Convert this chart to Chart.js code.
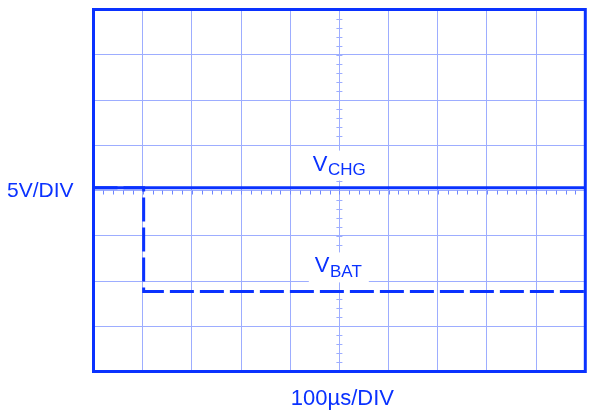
<!DOCTYPE html>
<html>
<head>
<meta charset="utf-8">
<script src="https://cdn.jsdelivr.net/npm/chart.js@4/dist/chart.umd.min.js"></script>
<style>
html,body{margin:0;padding:0;background:#fff;}
#wrap{width:600px;height:418px;}
</style>
</head>
<body>
<div id="wrap"><canvas id="c" width="600" height="418"></canvas></div>
<script>
// Data (in divisions)
const timeDiv = [0, 1.02, 1.02, 10];
const vbatDiv = [0.06, 0.06, -2.23, -2.23];
const vchgTime = [0, 10];
const vchgDiv = [0.06, 0.06];
const yLabel = '5V/DIV';
const xLabel = '100µs/DIV';
const traceNames = [['V', 'CHG'], ['V', 'BAT']];
const tracePos = [[4.46, 0.44], [4.50, -1.81]]; // label anchor (div units)

const BLUE = '#0a32ff';
const GRID = '#9dadff';
const FONT = "'Liberation Sans', Arial, sans-serif";

const vchg = vchgTime.map((t, i) => ({x: t, y: vchgDiv[i]}));
const vbat = timeDiv.map((t, i) => ({x: t, y: vbatDiv[i]}));

function labelBoxes(chart) {
  const xs = chart.scales.x, ys = chart.scales.y;
  return traceNames.map((n, i) => {
    const x = xs.getPixelForValue(tracePos[i][0]);
    const y = ys.getPixelForValue(tracePos[i][1]);
    return {n, x, y};
  });
}

const scopePlugin = {
  id: 'scope',
  beforeDatasetsDraw(chart) {
    const ctx = chart.ctx, xs = chart.scales.x, ys = chart.scales.y;
    const cx = xs.getPixelForValue(5), cy = ys.getPixelForValue(0);
    ctx.save();
    ctx.strokeStyle = GRID;
    ctx.lineWidth = 1;
    ctx.beginPath();
    for (let v = -4; v < 4; v += 0.2) {
      const y = Math.round(ys.getPixelForValue(v)) + 0.5;
      ctx.moveTo(cx - 3, y); ctx.lineTo(cx + 3, y);
    }
    ctx.stroke();
    ctx.strokeStyle = '#6f86ff';
    ctx.beginPath();
    for (let v = 0; v < 10; v += 0.2) {
      const x = Math.round(xs.getPixelForValue(v)) + 0.5;
      ctx.moveTo(x, cy); ctx.lineTo(x, cy + 4);
    }
    ctx.stroke();
    // label backgrounds
    ctx.fillStyle = '#ffffff';
    labelBoxes(chart).forEach(b => {
      ctx.fillRect(b.x - 6, b.y - 20, 60, 30);
    });
    ctx.restore();
  },
  afterDraw(chart) {
    const ctx = chart.ctx, a = chart.chartArea, xs = chart.scales.x;
    ctx.save();
    ctx.strokeStyle = BLUE;
    ctx.lineWidth = 3;
    ctx.strokeRect(a.left, a.top, a.right - a.left, a.bottom - a.top);
    ctx.fillStyle = BLUE;
    ctx.textBaseline = 'alphabetic';
    ctx.font = '21px ' + FONT;
    ctx.textAlign = 'left';
    ctx.fillText(yLabel, 7, 197);
    ctx.textAlign = 'center';
    ctx.font = '22px ' + FONT;
    ctx.fillText(xLabel, xs.getPixelForValue(5) + 3, 405);
    ctx.textAlign = 'left';
    labelBoxes(chart).forEach(b => {
      ctx.font = '22px ' + FONT;
      ctx.fillText(b.n[0], b.x, b.y);
      const w = ctx.measureText(b.n[0]).width;
      ctx.font = '17px ' + FONT;
      ctx.fillText(b.n[1], b.x + w + 0.5, b.y + 4.5);
    });
    ctx.restore();
  }
};

new Chart(document.getElementById('c'), {
  type: 'scatter',
  data: {
    datasets: [
      {label: 'VCHG', data: vchg, showLine: true, borderColor: BLUE, borderWidth: 3, pointRadius: 0, tension: 0, borderCapStyle: 'butt'},
      {label: 'VBAT', data: vbat, showLine: true, borderColor: BLUE, borderWidth: 3, pointRadius: 0, tension: 0, borderDash: [24, 6], borderCapStyle: 'butt', borderJoinStyle: 'miter'}
    ]
  },
  options: {
    responsive: false,
    animation: false,
    devicePixelRatio: 1,
    layout: {padding: {left: 93.5, top: 9.5, right: 14.7, bottom: 46.5}},
    plugins: {legend: {display: false}, tooltip: {enabled: false}},
    scales: {
      x: {type: 'linear', min: 0, max: 10,
          ticks: {display: false, stepSize: 1},
          grid: {color: GRID, lineWidth: 1, drawTicks: false},
          border: {display: false}},
      y: {type: 'linear', min: -4, max: 4,
          ticks: {display: false, stepSize: 1},
          grid: {color: GRID, lineWidth: 1, drawTicks: false},
          border: {display: false}}
    }
  },
  plugins: [scopePlugin]
});
</script>
</body>
</html>
